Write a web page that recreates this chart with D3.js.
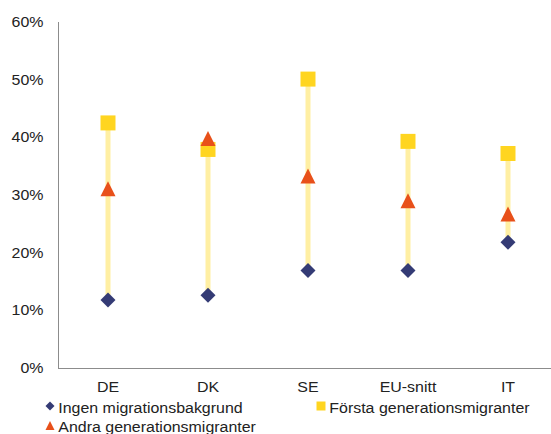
<!DOCTYPE html>
<html>
<head>
<meta charset="utf-8">
<script src="https://cdn.jsdelivr.net/npm/d3@7"></script>
<style>
  html, body { margin: 0; padding: 0; background: #fff; }
  svg { display: block; font-family: "Liberation Sans", Arial, sans-serif; }
</style>
</head>
<body>
<svg id="chart" width="551" height="434"></svg>
<script>
// Share per group (%), by country
const categories = ["DE", "DK", "SE", "EU-snitt", "IT"];
const ingen = [11.8, 12.6, 16.9, 16.9, 21.8];
const forsta = [42.5, 37.9, 50.1, 39.3, 37.2];
const andra = [31.1, 39.8, 33.3, 29.0, 26.7];
const yTicks = [0, 10, 20, 30, 40, 50, 60];

const seriesNames = {
  ingen: "Ingen migrationsbakgrund",
  forsta: "Första generationsmigranter",
  andra: "Andra generationsmigranter"
};
const colors = { ingen: "#343B75", forsta: "#FFD520", andra: "#E8501A", range: "#FFEFA3" };

const svg = d3.select("#chart");
const margin = { left: 58, top: 22, right: 558, bottom: 368 };
const FONT = 14.5, STRETCH = 1.1;

const x = d3.scaleBand().domain(categories).range([margin.left, margin.right]);
const y = d3.scaleLinear().domain([0, 60]).range([margin.bottom, margin.top]);

// text with slightly wide letterforms
function label(g, tx, ty, anchor, str) {
  return g.append("text")
    .attr("transform", `translate(${tx},${ty}) scale(${STRETCH},1)`)
    .attr("text-anchor", anchor)
    .attr("font-size", FONT)
    .attr("fill", "#222")
    .text(str);
}

// axes
svg.append("line")
  .attr("x1", margin.left + 0.5).attr("x2", margin.left + 0.5)
  .attr("y1", margin.top).attr("y2", margin.bottom)
  .attr("stroke", "#8c8c8c").attr("stroke-width", 1);
svg.append("line")
  .attr("x1", margin.left).attr("x2", margin.right)
  .attr("y1", margin.bottom + 0.5).attr("y2", margin.bottom + 0.5)
  .attr("stroke", "#8c8c8c").attr("stroke-width", 1);

const yAxisG = svg.append("g");
yTicks.forEach(t => label(yAxisG, 43.5, y(t) + 5, "end", t + "%"));

const xAxisG = svg.append("g");
categories.forEach(c => label(xAxisG, x(c) + x.bandwidth() / 2, 391.5, "middle", c));

const rows = categories.map((c, i) => ({ c, ingen: ingen[i], forsta: forsta[i], andra: andra[i] }));
const cx = d => x(d.c) + x.bandwidth() / 2;

// high-low range lines
svg.append("g").selectAll("line").data(rows).join("line")
  .attr("x1", cx).attr("x2", cx)
  .attr("y1", d => y(Math.min(d.ingen, d.forsta, d.andra)))
  .attr("y2", d => y(Math.max(d.ingen, d.forsta, d.andra)))
  .attr("stroke", colors.range).attr("stroke-width", 5);

const sym = {
  ingen: d3.symbol().type(d3.symbolSquare).size(112),
  forsta: d3.symbol().type(d3.symbolSquare).size(225)
};

function drawMarker(g, key, px, py, k) {
  k = k || 1;
  if (key === "ingen") {
    g.append("path").attr("d", sym.ingen())
      .attr("transform", `translate(${px},${py}) rotate(45) scale(${k})`)
      .attr("fill", colors.ingen);
  } else if (key === "forsta") {
    g.append("path").attr("d", sym.forsta())
      .attr("transform", `translate(${px},${py}) scale(${k})`)
      .attr("fill", colors.forsta);
  } else {
    // triangle centred on its value
    const w = 7.5 * k, h = 7.5 * k;
    g.append("path")
      .attr("d", `M${px},${py - h}L${px + w},${py + h}L${px - w},${py + h}Z`)
      .attr("fill", colors.andra);
  }
}

const marks = svg.append("g");
rows.forEach(d => {
  drawMarker(marks, "ingen", cx(d), y(d.ingen));
  drawMarker(marks, "forsta", cx(d), y(d.forsta));
  drawMarker(marks, "andra", cx(d), y(d.andra));
});

// legend
const legend = svg.append("g");
const legendItems = [
  { key: "ingen", lx: 50, ly: 406 },
  { key: "forsta", lx: 321, ly: 406 },
  { key: "andra", lx: 50, ly: 425.5 }
];
legendItems.forEach(it => {
  drawMarker(legend, it.key, it.lx, it.ly, 0.6);
  label(legend, it.lx + 8.3, it.ly + 6.5, "start", seriesNames[it.key]);
});
</script>
</body>
</html>
